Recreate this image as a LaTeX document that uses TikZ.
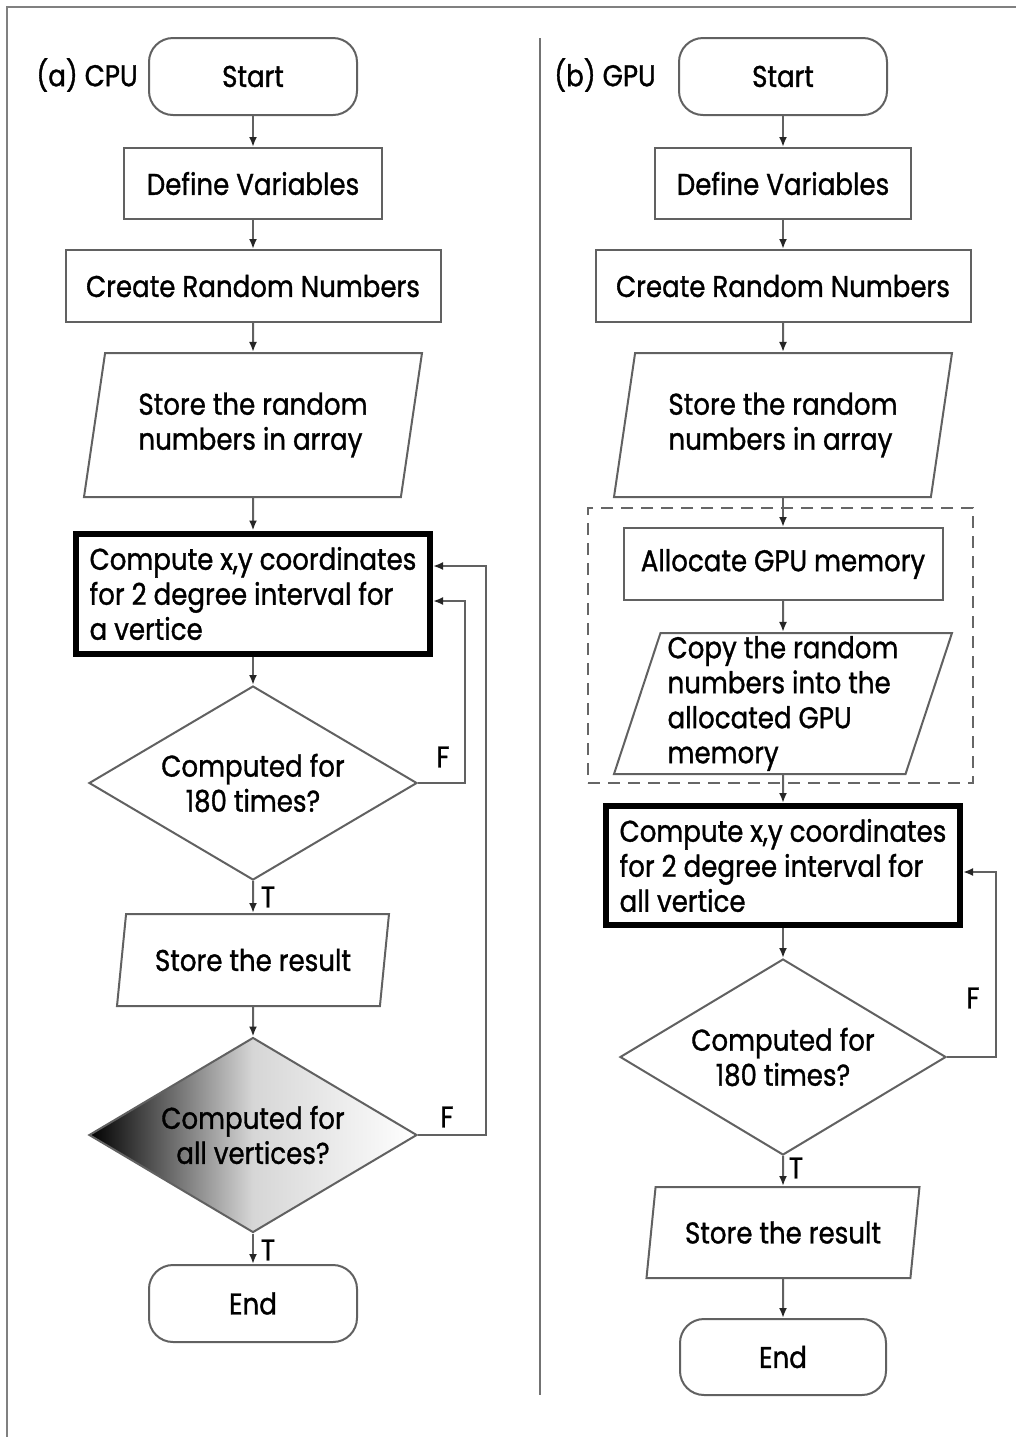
\documentclass[tikz,border=0pt]{standalone}
\usepackage{fontspec}
\setmainfont{Poppins}[FakeStretch=0.87,FakeBold=1.1]
\usetikzlibrary{shapes.geometric,arrows.meta,calc}
\newcommand\myfs{\fontsize{15}{17.5}\selectfont}
\begin{document}
\begin{tikzpicture}[x=0.5pt,y=-0.5pt,
  ln/.style={draw=black!62,line width=1pt},
  arr/.style={ln,-{Latex[length=5pt,width=4pt,color=black!85]}},
  box/.style={rectangle,ln,font=\myfs,inner sep=0pt},
  term/.style={box,rounded corners=12pt,minimum width=104pt,minimum height=38.5pt},
  thick box/.style={rectangle,draw=black,line width=3pt,font=\myfs,align=left,inner sep=0pt,minimum width=177pt,minimum height=60pt},
  io/.style={trapezium,trapezium stretches body,ln,font=\myfs,align=left,inner sep=0pt},
  dec/.style={diamond,aspect=1.7,ln,font=\myfs,align=center,inner sep=0pt,minimum width=164pt,minimum height=97pt},
  lbl/.style={font=\myfs,inner sep=0pt}
]
\useasboundingbox (0,0) rectangle (1016,1437);
% frame and divider
\draw[black!50,line width=0.7pt] (1016,7) -- (7,7) -- (7,1437);
\draw[black!55,line width=1pt] (540,38) -- (540,1395);

% ---------- CPU ----------
\node[lbl] (la) at (87,75) {(a) CPU};
\node[term] (startA) at (253,76.5) {Start};
\node[box,minimum width=129pt,minimum height=35.5pt] (defA) at (253,183.5) {Define Variables};
\node[box,minimum width=187.5pt,minimum height=36pt] (crA) at (253,286) {Create Random Numbers};
\node[io,trapezium left angle=72,trapezium right angle=108,minimum width=169pt,minimum height=72pt] (stA) at (253,425) {Store the random\\numbers in array};
\node[thick box] (compA) at (253,593.5) {Compute x,y coordinates\\for 2 degree interval for\\a vertice};
\node[dec] (dA) at (253,783) {Computed for\\180 times?};
\node[io,align=center,trapezium left angle=68,trapezium right angle=112,minimum width=136pt,minimum height=46pt] (srA) at (253,960) {Store the result};
\node[dec,left color=black,right color=white,middle color=black!16,minimum height=97.5pt] (gA) at (253,1135) {Computed for\\all vertices?};
\node[term] (endA) at (253,1303.5) {End};

\draw[arr] (startA) -- (defA);
\draw[arr] (defA) -- (crA);
\draw[arr] (crA) -- (stA);
\draw[arr] (stA) -- (compA);
\draw[arr] (compA) -- (dA);
\draw[arr] (dA) -- (srA);
\draw[arr] (srA) -- (gA);
\draw[arr] (gA) -- (endA);
\draw[arr] (dA.east) -- ++(47,0) |- ($(compA.east)+(0,7.5)$);
\draw[arr] (gA.east) -- ++(68,0) |- ($(compA.east)+(0,-27.5)$);
\node[lbl] (fA1) at (443,757) {F};
\node[lbl] (fA2) at (447,1117) {F};
\node[lbl] (tA1) at (268,897) {T};
\node[lbl] (tA2) at (268,1250) {T};

% ---------- GPU ----------
\node[lbl] (lb) at (605,75) {(b) GPU};
\node[term] (startB) at (783,76.5) {Start};
\node[box,minimum width=128pt,minimum height=35.5pt] (defB) at (783,183.5) {Define Variables};
\node[box,minimum width=187.5pt,minimum height=36pt] (crB) at (783,286) {Create Random Numbers};
\node[io,trapezium left angle=72,trapezium right angle=108,minimum width=169pt,minimum height=72pt] (stB) at (783,425) {Store the random\\numbers in array};
\node[rectangle,draw=black!60,line width=1pt,dash pattern=on 6pt off 4pt,minimum width=192.5pt,minimum height=137.5pt] (grp) at (780.5,645.5) {};
\node[box,minimum width=159.5pt,minimum height=36pt] (alB) at (783,564) {Allocate GPU memory};
\node[io,trapezium left angle=71,trapezium right angle=109,minimum width=169pt,minimum height=70.5pt] (cpB) at (783,703.5) {Copy the random\\numbers into the\\allocated GPU\\memory};
\node[thick box,minimum height=59.5pt] (compB) at (783,865.5) {Compute x,y coordinates\\for 2 degree interval for\\all vertice};
\node[dec,minimum width=163pt,minimum height=98pt] (dB) at (783,1057) {Computed for\\180 times?};
\node[io,align=center,trapezium left angle=68,trapezium right angle=112,minimum width=136.5pt,minimum height=45.5pt] (srB) at (783,1232.5) {Store the result};
\node[term,minimum width=103pt,minimum height=38pt] (endB) at (783,1357) {End};

\draw[arr] (startB) -- (defB);
\draw[arr] (defB) -- (crB);
\draw[arr] (crB) -- (stB);
\draw[arr] (stB) -- (alB);
\draw[arr] (alB) -- (cpB);
\draw[arr] (cpB) -- (compB);
\draw[arr] (compB) -- (dB);
\draw[arr] (dB) -- (srB);
\draw[arr] (srB) -- (endB);
\draw[arr] (dB.east) -- ++(49,0) |- ($(compB.east)+(0,6.5)$);
\node[lbl] (fB) at (973,998) {F};
\node[lbl] (tB) at (796,1168) {T};
\end{tikzpicture}
\end{document}
